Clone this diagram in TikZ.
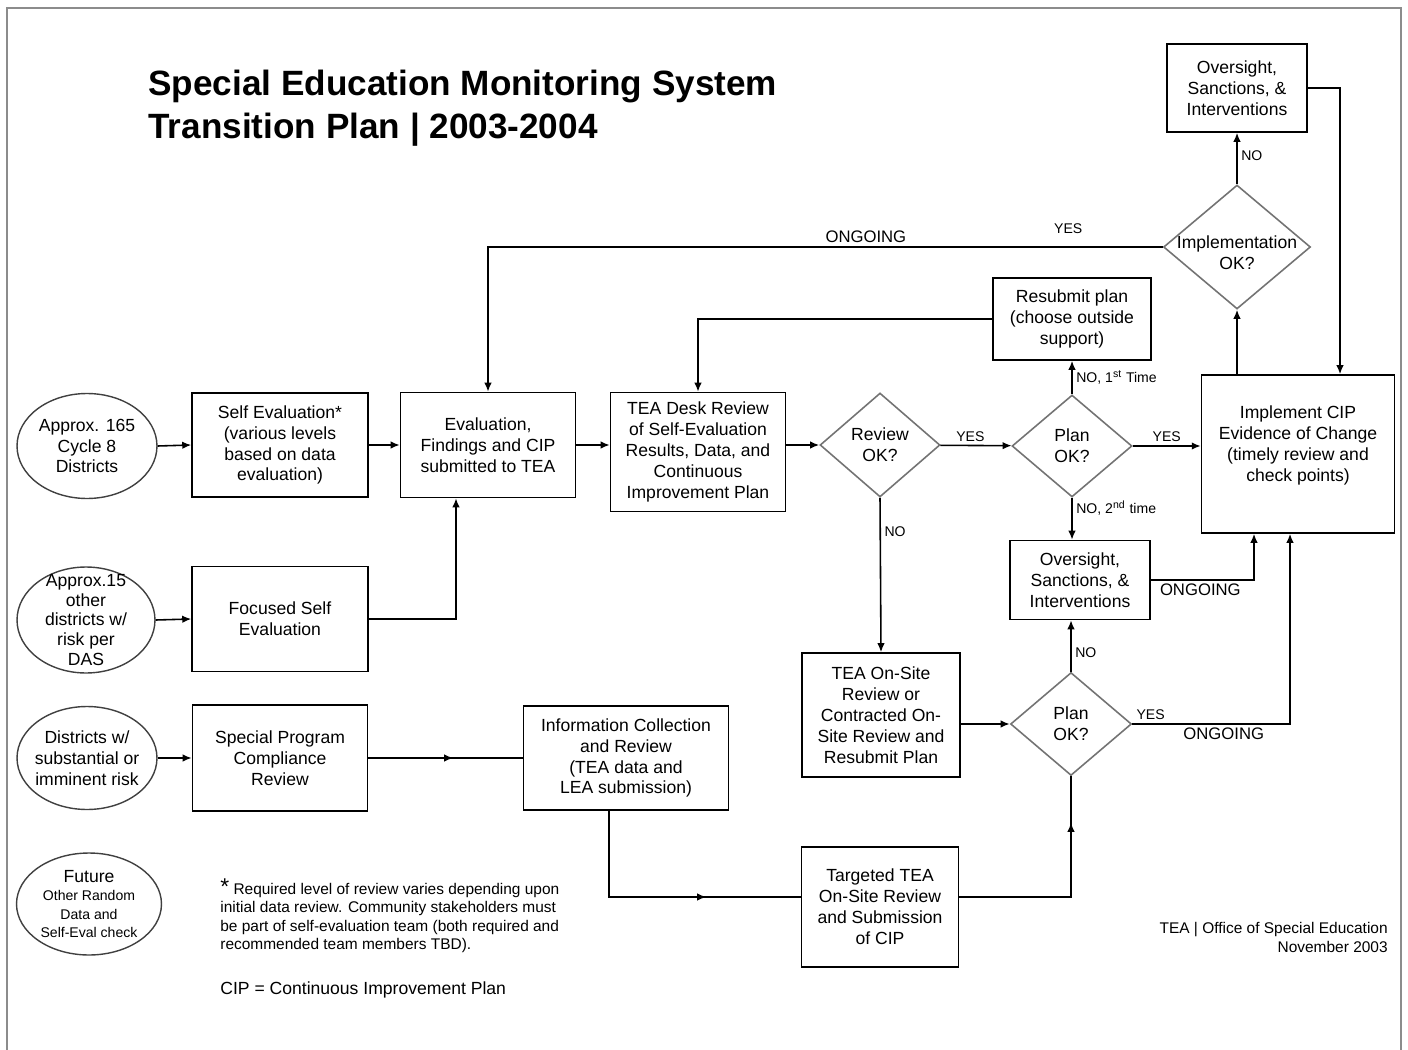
\documentclass[tikz,border=0pt]{standalone}
\usepackage{fontspec}
\setmainfont{Liberation Sans}
\usetikzlibrary{arrows.meta, positioning, shapes.geometric, calc, decorations.markings}

\newcommand{\smalltxt}{\fontsize{8}{10.6}\selectfont}

\begin{document}
\begin{tikzpicture}[x=0.02cm, y=-0.02cm,
        font=\fontsize{10}{11.9}\selectfont,
        box/.style={rectangle, draw=black, line width=0.9pt, align=center, inner sep=2pt},
        source/.style={ellipse, draw=black!75, line width=0.8pt, inner sep=0pt},
        decision/.style={diamond, draw=black!55, line width=0.9pt, align=center, inner sep=0pt, aspect=1.15},
        arrow/.style={-{Latex[length=1.8mm, width=1.5mm]}, line width=0.9pt},
        midarrow/.style={line width=0.9pt, postaction={decorate},
                         decoration={markings, mark=at position #1 with {\arrow{Latex[length=1.8mm, width=1.5mm]}}}},
        lbl/.style={font=\fontsize{8}{9.5}\selectfont, inner sep=2pt},
        going/.style={font=\fontsize{9.5}{11}\selectfont, inner sep=2pt}
    ]
    \useasboundingbox (0,0) rectangle (1408,1050);
    \draw[black!45, line width=1.2pt] (7,1050) -- (7,8) -- (1401,8) -- (1401,1050);

    \node[anchor=north west, align=left, inner sep=0pt, font=\fontsize{20}{24.4}\selectfont\bfseries] (title)
        at (148,70) {Special Education Monitoring System\\Transition Plan | 2003-2004};

    % entry groups
    \node[source, minimum width=2.8cm, minimum height=2.1cm,
          label={[align=center]center:Approx. 165\\Cycle 8\\Districts}] (dist165) at (87,446) {};
    \node[source, minimum width=2.76cm, minimum height=2.12cm,
          label={[align=center, font=\fontsize{10}{11.3}\selectfont]center:Approx.15\\other\\districts w/\\risk per\\DAS}] (dist15) at (86,620) {};
    \node[source, minimum width=2.8cm, minimum height=2.06cm,
          label={[align=center]center:Districts w/\\substantial or\\imminent risk}] (distrisk) at (87,758) {};
    \node[source, minimum width=2.9cm, minimum height=2.04cm,
          label={[align=center, font=\fontsize{10}{10.6}\selectfont]center:Future\\\smalltxt Other Random\\\smalltxt Data and\\\smalltxt Self-Eval check}] (future) at (89,904) {};

    % boxes
    \node[box, minimum width=3.52cm, minimum height=2.08cm] (selfeval) at (280,445) {Self Evaluation*\\(various levels\\based on data\\evaluation)};
    \node[box, minimum width=3.52cm, minimum height=2.1cm] (focused) at (280,619) {Focused Self\\Evaluation};
    \node[box, minimum width=3.5cm, minimum height=2.12cm] (sppcr) at (280,758) {Special Program\\Compliance\\Review};
    \node[box, minimum width=3.5cm, minimum height=2.1cm] (findings) at (488,445) {Evaluation,\\Findings and CIP\\submitted to TEA};
    \node[box, minimum width=3.5cm, minimum height=2.38cm] (desk) at (698,452) {TEA Desk Review\\of Self-Evaluation\\Results, Data, and\\Continuous\\Improvement Plan};
    \node[decision, minimum width=2.4cm, minimum height=2.08cm] (reviewok) at (880,445) {Review\\OK?};
    \node[decision, minimum width=2.4cm, minimum height=2.04cm] (planok) at (1072,446) {Plan\\OK?};
    \node[box, minimum width=3.16cm, minimum height=1.64cm] (resubmit) at (1072,319) {Resubmit plan\\(choose outside\\support)};
    \node[box, minimum width=3.86cm, minimum height=3.16cm] (implement) at (1298,454) {Implement CIP\\Evidence of Change\\(timely review and\\check points)\\~};
    \node[box, minimum width=2.8cm, minimum height=1.58cm] (oversight) at (1080,580) {Oversight,\\Sanctions, \&\\Interventions};
    \node[box, minimum width=2.8cm, minimum height=1.76cm] (sanctions) at (1237,88) {Oversight,\\Sanctions, \&\\Interventions};
    \node[decision, minimum width=2.94cm, minimum height=2.48cm,
          label={[align=center, yshift=-0.12cm]center:Implementation\\OK?}] (implok) at (1237,247) {};
    \node[box, minimum width=3.16cm, minimum height=2.48cm] (onsite) at (881,715) {TEA On-Site\\Review or\\Contracted On-\\Site Review and\\Resubmit Plan};
    \node[decision, minimum width=2.42cm, minimum height=2.06cm] (planok2) at (1071,724) {Plan\\OK?};
    \node[box, minimum width=4.1cm, minimum height=2.08cm] (infocoll) at (626,758) {Information Collection\\and Review\\(TEA data and\\LEA submission)};
    \node[box, minimum width=3.14cm, minimum height=2.4cm] (targeted) at (880,907) {Targeted TEA\\On-Site Review\\and Submission\\of CIP};

    % connectors
    \draw[arrow] (dist165.east) -- (selfeval.west);
    \draw[arrow] (selfeval) -- (findings);
    \draw[arrow] (dist15.east) -- (focused.west);
    \draw[arrow] (focused.east) -| ($(findings.south)+(-32,0)$);
    \draw[arrow] (distrisk.east) -- (sppcr.west);
    \draw[midarrow=0.55] (sppcr.east) -- (infocoll.west);
    \draw[arrow] (findings.east) -- (findings.east -| desk.west);
    \draw[arrow] (reviewok.west -| desk.east) -- (reviewok.west);
    \draw[arrow] (reviewok) -- node[lbl, above, pos=0.42] {YES} (planok);
    \draw[arrow] (planok.east) -- node[lbl, above] {YES} (planok.east -| implement.west);
    \draw[arrow] (planok.north) -- node[lbl, right] {NO, 1\textsuperscript{st} Time} (resubmit.south);
    \draw[arrow] (planok.south) -- node[lbl, right, pos=0.25] {NO, 2\textsuperscript{nd} time} (planok.south |- oversight.north);
    \draw[arrow] (resubmit.west) -| (desk.north);
    \draw[arrow] (reviewok.south) -- node[lbl, right, pos=0.22] {NO} (onsite.north);
    \draw[arrow] (onsite.east |- planok2.west) -- (planok2.west);
    \draw[arrow] (planok2.north) -- node[lbl, right, pos=0.37] {NO} (planok2.north |- oversight.south);
    \draw[arrow] (planok2.east) -| node[lbl, above right, pos=0] {YES} node[going, below, pos=0.29] {ONGOING} ($(implement.south)+(-8,0)$);
    \draw[arrow] (oversight.east) -| node[going, below, pos=0.24] {ONGOING} ($(implement.south)+(-44,0)$);
    \draw[midarrow=0.66] ($(infocoll.south)+(-17,0)$) |- ($(targeted.west)+(0,-10)$);
    \draw[midarrow=0.8] ($(targeted.east)+(0,-10)$) -| (planok2.south);
    \draw[arrow] (implement.north -| implok.south) -- (implok.south);
    \draw[arrow] (implok.north) -- node[lbl, right, pos=0.55] {NO} (sanctions.south);
    \draw[arrow] (implok.west) -| node[lbl, above=5pt, pos=0.07] {YES} node[going, above, pos=0.22] {ONGOING} (findings.north);
    \draw[arrow] (sanctions.east) -| ($(implement.north)+(42,0)$);

    % notes
    \node[anchor=north west, align=left, inner sep=0pt, font=\fontsize{8.8}{10.6}\selectfont] (footnote) at (220,878)
        {{\fontsize{13}{13}\selectfont *} Required level of review varies depending upon\\initial data review. Community stakeholders must\\be part of self-evaluation team (both required and\\recommended team members TBD).};
    \node[anchor=west, inner sep=0pt] (cipnote) at (220,990) {CIP = Continuous Improvement Plan};
    \node[anchor=north east, align=right, inner sep=0pt, font=\fontsize{8.8}{10.6}\selectfont] (credit) at (1388,922)
        {TEA | Office of Special Education\\November 2003};
\end{tikzpicture}
\end{document}
